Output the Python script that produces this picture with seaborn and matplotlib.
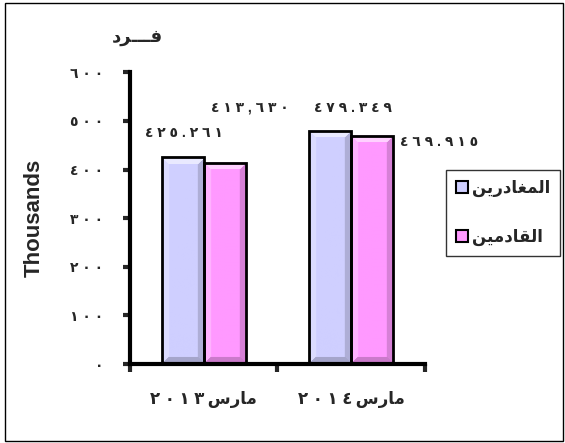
import numpy as np
import pandas as pd
import matplotlib
matplotlib.use("Agg")
import matplotlib.pyplot as plt
import seaborn as sns
from matplotlib.colors import to_rgb
from matplotlib.patches import Patch, Rectangle

# بيانات الرسم
months = ["مارس٢٠١٣", "مارس٢٠١٤"]
series = ["المغادرين", "القادمين"]
departing = [425.261, 479.349]
arriving = [413.630, 469.915]
label_seps = [[".", "."], [",", "."]]   # فاصل الأرقام كما في الصورة (حسب السلسلة ثم الشهر)
yticks = [0, 100, 200, 300, 400, 500, 600]
title_text = "فـــرد"
ylabel_text = "Thousands"

colors = ["#CFCFFF", "#FF99FF"]

# تشكيل الحروف العربية يدويا (matplotlib لا يشكل النص)
FORMS = {
    'ا': ('\uFE8D', '\uFE8E', None, None),
    'د': ('\uFEA9', '\uFEAA', None, None),
    'ر': ('\uFEAD', '\uFEAE', None, None),
    'ل': ('\uFEDD', '\uFEDE', '\uFEDF', '\uFEE0'),
    'م': ('\uFEE1', '\uFEE2', '\uFEE3', '\uFEE4'),
    'غ': ('\uFECD', '\uFECE', '\uFECF', '\uFED0'),
    'ي': ('\uFEF1', '\uFEF2', '\uFEF3', '\uFEF4'),
    'ن': ('\uFEE5', '\uFEE6', '\uFEE7', '\uFEE8'),
    'ق': ('\uFED5', '\uFED6', '\uFED7', '\uFED8'),
    'س': ('\uFEB1', '\uFEB2', '\uFEB3', '\uFEB4'),
    'ف': ('\uFED1', '\uFED2', '\uFED3', '\uFED4'),
    'ـ': ('\u0640',) * 4,
}


def shape(word):
    out = []
    for i, ch in enumerate(word):
        if ch not in FORMS:
            out.append(ch)
            continue
        f = FORMS[ch]
        prev = word[i - 1] if i > 0 else None
        nxt = word[i + 1] if i + 1 < len(word) else None
        jp = prev in FORMS and FORMS[prev][2] is not None
        jn = nxt in FORMS and f[2] is not None
        if jp and jn:
            out.append(f[3])
        elif jp:
            out.append(f[1])
        elif jn:
            out.append(f[2])
        else:
            out.append(f[0])
    return out


def spaced(s):
    return " ".join(s)


def visual(text):
    chars = shape(text)
    runs, cur, cur_ar = [], [], None
    for src, ch in zip(text, chars):
        is_ar = src in FORMS
        if cur and is_ar != cur_ar:
            runs.append((cur_ar, cur))
            cur = []
        cur.append(ch)
        cur_ar = is_ar
    if cur:
        runs.append((cur_ar, cur))
    runs = runs[::-1]
    return "".join("".join(r[::-1]) if ar else spaced(r) + "\u2009" for ar, r in runs)


AR_DIGITS = str.maketrans("0123456789", "٠١٢٣٤٥٦٧٨٩")


def ar_num(v, sep="."):
    return spaced(f"{v:.3f}".translate(AR_DIGITS).replace(".", sep))


df = pd.DataFrame({
    "month": [visual(m) for m in months] * 2,
    "series": [visual(series[0])] * 2 + [visual(series[1])] * 2,
    "value": departing + arriving,
})

sns.set_style("white")
plt.rcParams['font.family'] = ['Liberation Sans', 'DejaVu Sans']

fig = plt.figure(figsize=(5.65, 4.43), dpi=100)
ax = fig.add_axes([0.230, 0.178, 0.522, 0.659])

sns.barplot(data=df, x="month", y="value", hue="series",
            palette=colors, width=0.57, edgecolor="black", linewidth=2,
            saturation=1, ax=ax, legend=False)

ax.set_xlim(-0.5, 1.5)
ax.set_ylim(0, 600)

# ظل ثلاثي الأبعاد للأعمدة
def bevel(patch, color):
    x0, y0 = patch.get_x(), patch.get_y()
    w, h = patch.get_width(), patch.get_height()
    (px0, py0), (px1, py1) = ax.transData.transform([(x0, y0), (x0 + w, y0 + h)])
    W, H = max(int(px1 - px0), 2), max(int(py1 - py0), 2)
    yy, xx = np.mgrid[0:H, 0:W]
    base = np.array(to_rgb(color))
    img = np.tile(base, (H, W, 1))
    d = np.stack([yy, H - 1 - yy, xx, W - 1 - xx])
    which = d.argmin(axis=0)
    edge = d.min(axis=0) < 7
    white, dark = np.ones(3), base * 0.55
    mods = [(white, 0.55), (dark, 0.45), (white, 0.25), (dark, 0.35)]
    for k, (c, a) in enumerate(mods):
        m = edge & (which == k)
        img[m] = img[m] * (1 - a) + c * a
    ax.imshow(img, extent=(x0, x0 + w, y0, y0 + h), origin="upper",
              aspect="auto", interpolation="bilinear", zorder=1.5)
    patch.set_facecolor("none")
    patch.set_zorder(2)

bars = list(ax.patches)
for i, p in enumerate(bars):
    bevel(p, colors[i // 2])

ax.set_xlim(-0.5, 1.5)
ax.set_ylim(0, 600)

# قيم الأعمدة
vals = [departing, arriving]
label_off = {(0, 0): (1, 24), (1, 0): (25, 55), (0, 1): (23, 23), (1, 1): (67, -6)}
for s in range(2):
    for m in range(2):
        p = bars[s * 2 + m]
        dx, dy = label_off[(s, m)]
        ax.annotate(ar_num(vals[s][m], label_seps[s][m]),
                    xy=(p.get_x() + p.get_width() / 2, p.get_height()),
                    xytext=(dx, dy), textcoords="offset pixels",
                    ha="center", va="center", fontsize=10, fontweight="bold")

# المحاور
sns.despine(ax=ax)
for side in ["left", "bottom"]:
    ax.spines[side].set_linewidth(3)
    ax.spines[side].set_color("black")
ax.set_yticks(yticks)
ax.set_yticklabels([spaced(str(t).translate(AR_DIGITS)) for t in yticks],
                   fontsize=10, fontweight="bold")
ax.tick_params(axis="y", length=5, width=3, pad=14, direction="out", left=True)
ax.set_xticks([0, 1])
ax.set_xticklabels([visual(m) for m in months], fontsize=12, fontweight="bold")
ax.tick_params(axis="x", length=0, pad=19)
ax.set_xticks([-0.5, 0.5, 1.5], minor=True)
ax.tick_params(axis="x", which="minor", length=6, width=3, bottom=True)
ax.set_xlabel("")
ax.set_ylabel(ylabel_text, fontsize=16, fontweight="bold")
ax.yaxis.set_label_coords(-0.288, 0.5)
ax.grid(False)

fig.text(0.243, 0.916, visual(title_text), fontsize=13, fontweight="bold",
         ha="center", va="center")

handles = [Patch(facecolor=c, edgecolor="black", linewidth=1.5) for c in colors]
fig.legend(handles, [visual(s) for s in series], loc="center",
           bbox_to_anchor=(0.890, 0.520), frameon=True, fancybox=False,
           edgecolor="black", handlelength=0.75, handleheight=0.75,
           handletextpad=0.2, labelspacing=1.9, borderpad=0.6,
           prop={"weight": "bold", "size": 12})

fig.patches.append(Rectangle((0.008, 0.005), 0.988, 0.988, transform=fig.transFigure,
                             fill=False, edgecolor="black", linewidth=1))

fig.savefig("out.png", dpi=100)
